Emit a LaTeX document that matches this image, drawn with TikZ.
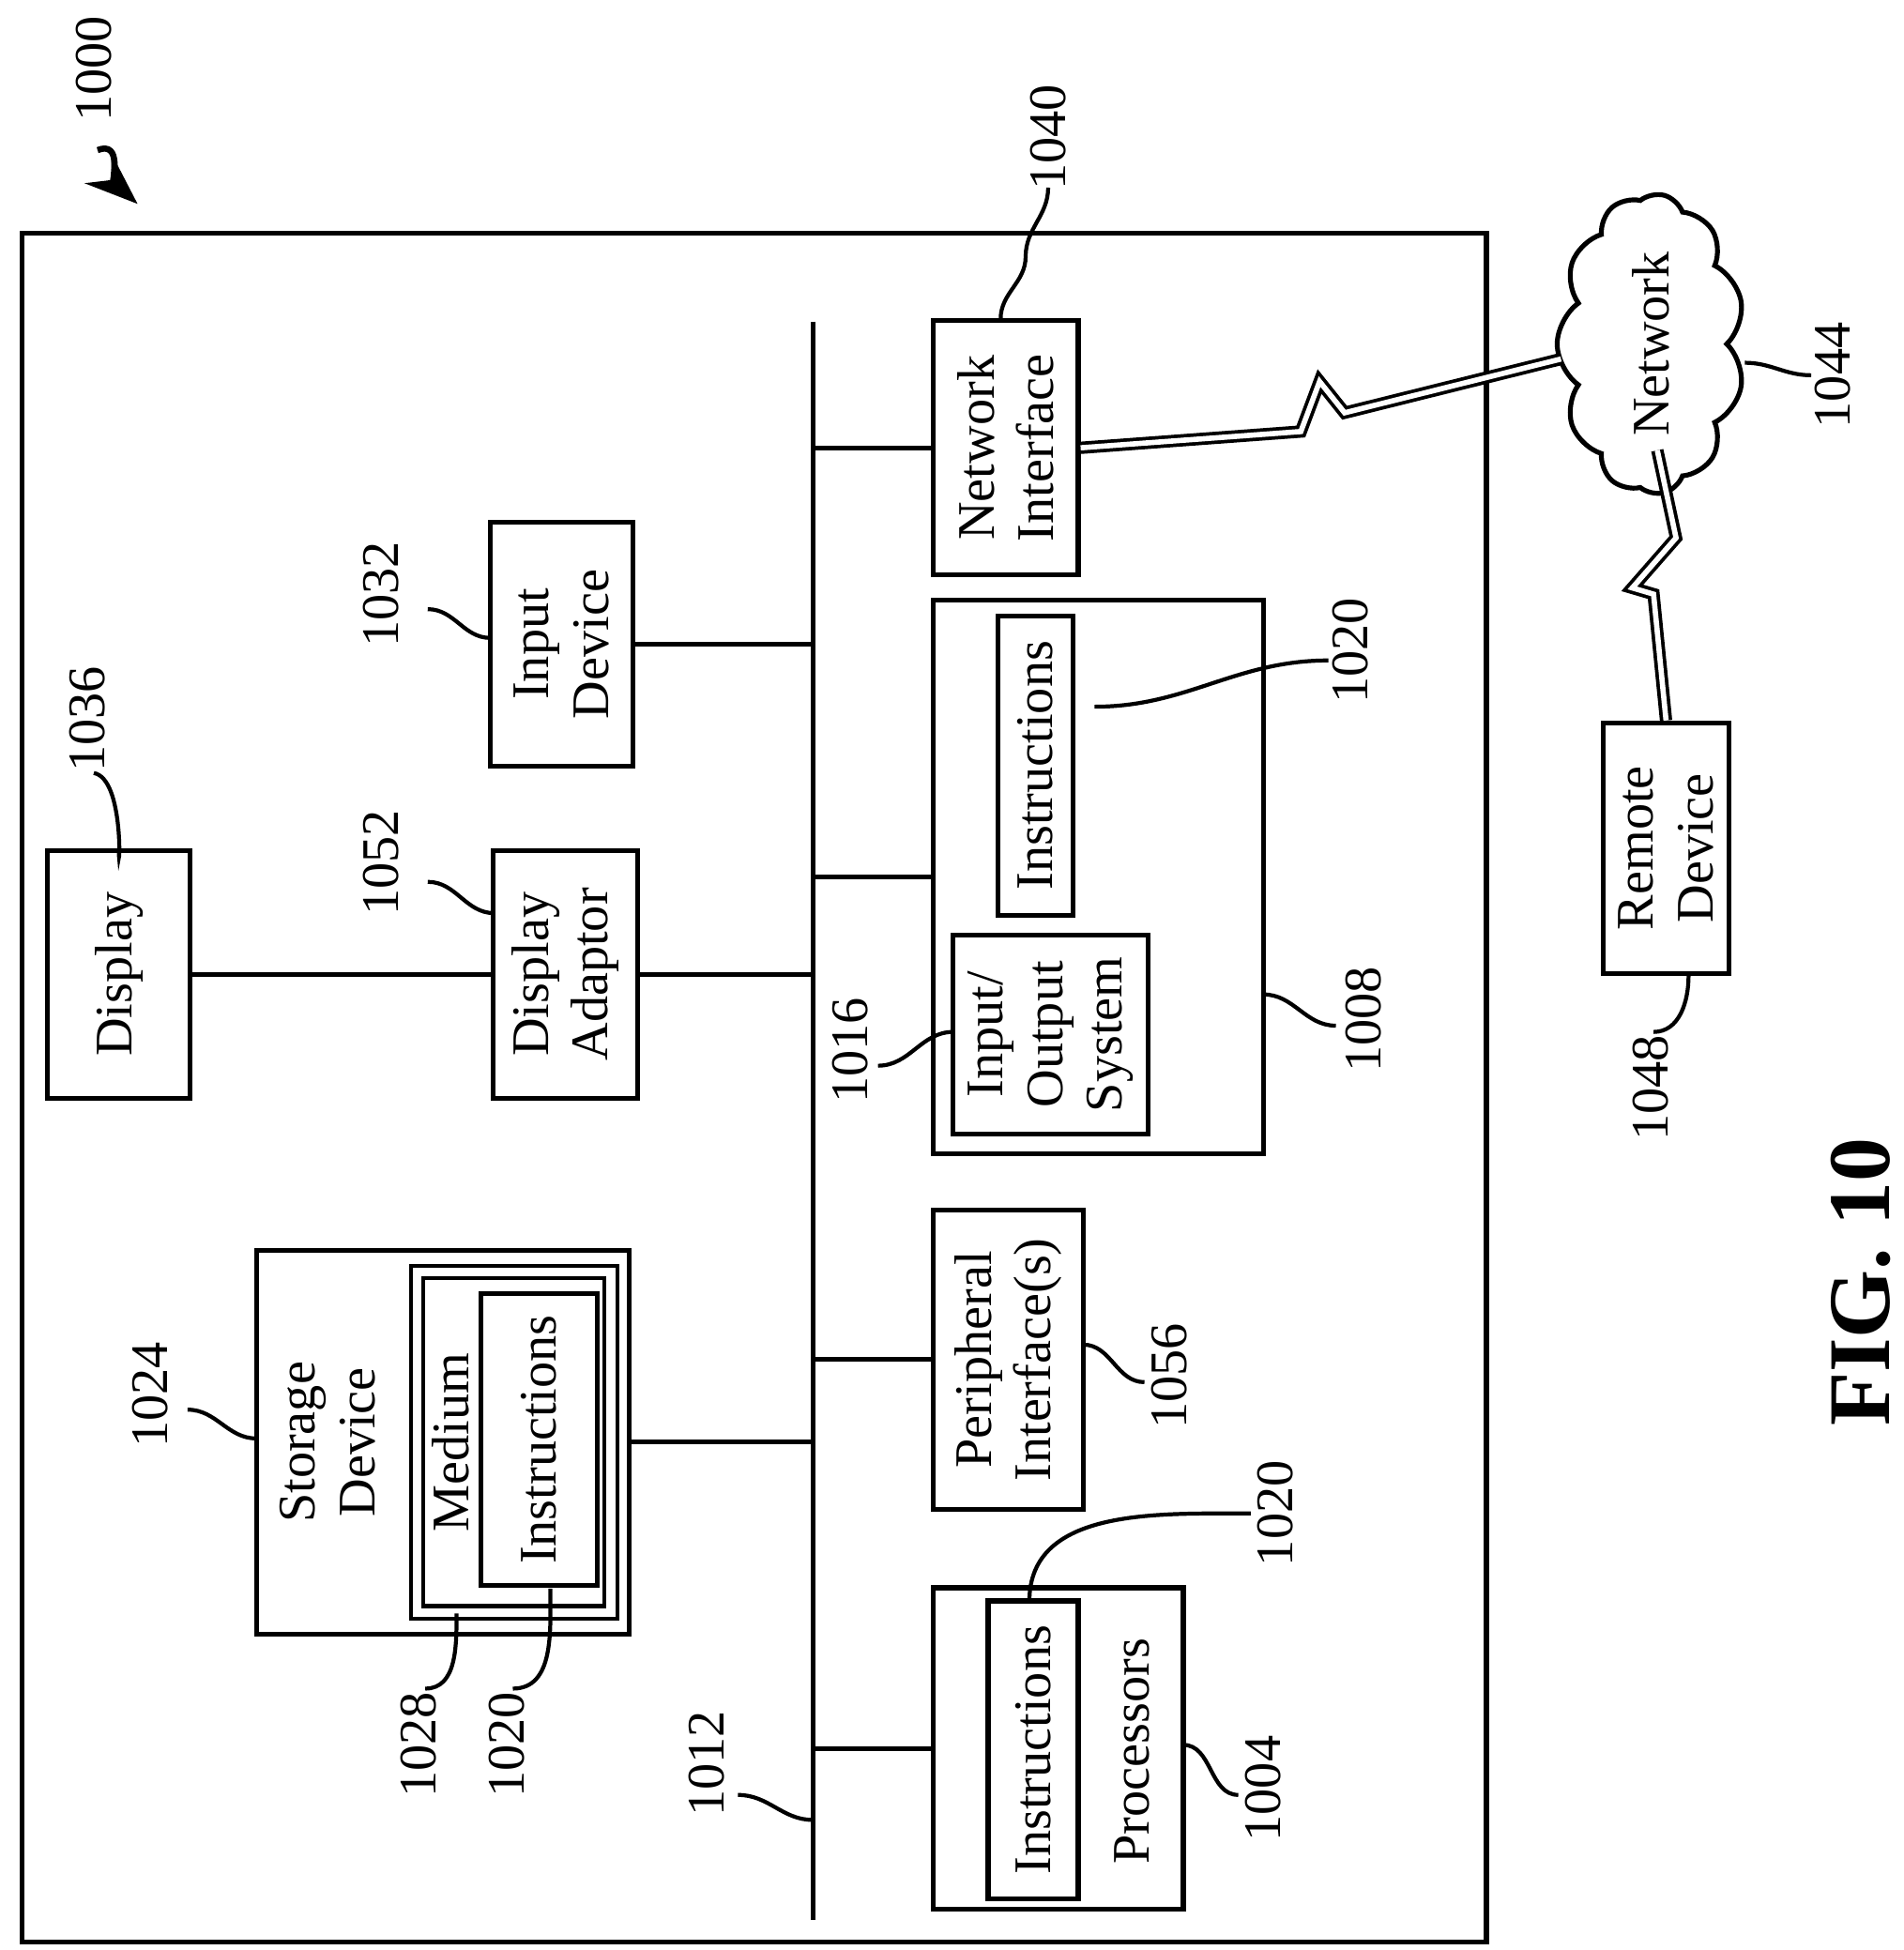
\documentclass[tikz,border=0pt]{standalone}
\usepackage{fontspec}
\setmainfont{Liberation Serif}
\usetikzlibrary{shapes.symbols,arrows.meta}
\begin{document}
\begin{tikzpicture}[x=0.01cm,y=-0.01cm,line width=1.1pt,
  every node/.style={font=\fontsize{12}{13.5}\selectfont},
  box/.style={draw,rotate=90,inner sep=0pt,align=center},
  txt/.style={rotate=90,align=center,inner sep=1pt},
  num/.style={rotate=90,inner sep=1pt},
  lead/.style={line width=0.9pt},
  conn/.style={line width=1.1pt}]
\useasboundingbox (0,0) rectangle (1522,1559);
% outer system
\node[draw,minimum width=11.7cm,minimum height=13.65cm,inner sep=0pt] (sys) at (603,869.5) {};
\node[num] (l1000) at (75,55) {1000};
\draw[-{Stealth[length=12pt,width=9pt]},line width=1.4pt] (78,120) .. controls (98,112) and (90,145) .. (110,163);
% bus
\coordinate (busT) at (650,257);
\coordinate (busB) at (650,1535);
\draw[conn] (busT) -- (busB);
% boxes
\node[box,minimum width=1.98cm,minimum height=1.14cm] (disp) at (95,779) {Display};
\node[box,minimum width=1.98cm,minimum height=1.15cm] (dadp) at (452,779) {Display\\Adaptor};
\node[box,minimum width=1.95cm,minimum height=1.14cm] (inp) at (449,515) {Input\\Device};
\node[box,minimum width=2.03cm,minimum height=1.16cm] (ni) at (804,358) {Network\\Interface};
\node[box,minimum width=4.42cm,minimum height=2.64cm] (mem) at (878,701) {};
\node[box,minimum width=2.39cm,minimum height=0.60cm] (memi) at (828,612) {Instructions};
\node[box,minimum width=1.59cm,minimum height=1.56cm] (io) at (840,827) {Input/\\Output\\System};
\node[box,minimum width=2.39cm,minimum height=1.20cm] (per) at (806,1087) {Peripheral\\Interface(s)};
\node[box,minimum width=2.57cm,minimum height=2.00cm] (proc) at (846,1398) {};
\node[box,minimum width=2.38cm,minimum height=0.72cm] (proci) at (826,1399) {Instructions};
\node[txt] (proct) at (905,1400) {Processors};
\node[box,minimum width=3.07cm,minimum height=2.98cm] (stor) at (354,1153) {};
\node[txt] (stort) at (262,1153) {Storage\\Device};
\node[box,double,double distance=2pt,line width=0.9pt,minimum width=2.72cm,minimum height=1.55cm] (med) at (411,1153) {};
\node[txt] (medt) at (360,1153) {Medium};
\node[box,minimum width=2.33cm,minimum height=0.93cm] (stori) at (431,1151) {Instructions};
\node[draw,cloud,cloud puffs=11,cloud puff arc=110,aspect=0.6,rotate=90,minimum width=2.4cm,minimum height=1.5cm,inner sep=0pt] (net) at (1320,275) {};
\node[txt] at (1320,275) {Network};
\node[box,minimum width=2.0cm,minimum height=1.01cm] (rem) at (1332,678) {Remote\\Device};
% connectors
\draw[conn] (disp.south) -- (dadp.north);
\draw[conn] (dadp.south) -- (dadp.south -| busT);
\draw[conn] (inp.south) -- (inp.south -| busT);
\draw[conn] (ni.north) -- (ni.north -| busT);
\draw[conn] (mem.north) -- (mem.north -| busT);
\draw[conn] (per.north) -- (per.north -| busT);
\draw[conn] (proc.north) -- (proc.north -| busT);
\draw[conn] (stor.south) -- (stor.south -| busT);
% lightning bolts
\draw[line width=0.8pt,double,double distance=1.2pt] (ni.south) -- (1040,345) -- (1055,305) -- (1075,330) -- (1248,287);
\draw[line width=0.8pt,double,double distance=1.2pt] (rem.east) -- (1322,475) -- (1305,470) -- (1340,430) -- (1325,360);
% labels and leaders
\node[num] (l1040) at (838,110) {1040};
\draw[lead] (838,150) to[out=-90,in=90] (820,205) to[out=-90,in=90] (800,255);
\node[num] (l1044) at (1465,300) {1044};
\draw[lead] (1448,300) to[out=180,in=0] (1395,290);
\node[num] (l1032) at (305,475) {1032};
\draw[lead] (342,487) to[out=0,in=180] (392,510);
\node[num] (l1036) at (70,575) {1036};
\draw[lead] (75,618) to[out=-10,in=-90] (95,680);
\node[num] (l1052) at (305,690) {1052};
\draw[lead] (342,705) to[out=0,in=180] (395,730);
\node[num] (l1020a) at (1080,520) {1020};
\draw[lead] (1062,528) to[out=180,in=0] (875,565);
\node[num] (l1008) at (1090,815) {1008};
\draw[lead] (1068,820) to[out=180,in=0] (1010,795);
\node[num] (l1016) at (680,840) {1016};
\draw[lead] (702,852) to[out=0,in=180] (762,825);
\node[num] (l1048) at (1320,870) {1048};
\draw[lead] (1322,825) to[out=0,in=-90] (1350,780);
\node[num] (l1024) at (120,1115) {1024};
\draw[lead] (150,1127) to[out=0,in=180] (205,1150);
\node[num] (l1056) at (935,1100) {1056};
\draw[lead] (915,1105) to[out=180,in=0] (866,1075);
\node[num] (l1028) at (335,1395) {1028};
\draw[lead] (340,1350) to[out=0,in=-90] (365,1290);
\node[num] (l1020b) at (405,1395) {1020};
\draw[lead] (410,1350) to[out=0,in=-90] (440,1270);
\node[num] (l1020c) at (1020,1210) {1020};
\draw[lead] (1000,1210) to[out=180,in=90] (823,1280);
\node[num] (l1012) at (565,1410) {1012};
\draw[lead] (590,1435) to[out=0,in=180] (650,1455);
\node[num] (l1004) at (1010,1430) {1004};
\draw[lead] (990,1435) to[out=180,in=0] (946,1395);
\node[rotate=90,font=\fontsize{20}{22}\selectfont\bfseries] (fig) at (1488,1025) {FIG. 10};
\end{tikzpicture}
\end{document}
